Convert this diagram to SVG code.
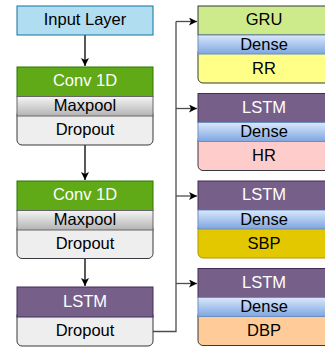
<svg xmlns="http://www.w3.org/2000/svg" width="325" height="347" viewBox="0 0 325 347">
<defs>
<linearGradient id="gGray" x1="0" y1="0" x2="0" y2="1"><stop offset="0" stop-color="#f5f5f5"/><stop offset="1" stop-color="#b3b3b3"/></linearGradient>
<linearGradient id="gBlue" x1="0" y1="0" x2="0" y2="1"><stop offset="0" stop-color="#dae8fc"/><stop offset="1" stop-color="#7ea6e0"/></linearGradient>
<marker id="arr" markerWidth="10" markerHeight="10" refX="8" refY="4" orient="auto" markerUnits="userSpaceOnUse"><path d="M0,0 L8,4 L0,8 L2,4 Z" fill="#000"/></marker>
</defs>
<style>
text{font-family:"Liberation Sans",Arial,Helvetica,sans-serif;font-size:16.5px;text-anchor:middle;fill:#000}
.w{fill:#fff}
.input{fill:#b1ddf0;stroke:#10739e}
.conv{fill:#60a917;stroke:#2d7600}
.pool{fill:url(#gGray);stroke:#666}
.drop{fill:#eeeeee;stroke:#36393d}
.lstm{fill:#76608a;stroke:#432d57}
.dense{fill:url(#gBlue);stroke:#6c8ebf}
.gru{fill:#cdeb8b;stroke:#36393d}
.rr{fill:#ffff88;stroke:#36393d}
.hr{fill:#ffcccc;stroke:#36393d}
.sbp{fill:#e3c800;stroke:#b09500}
.dbp{fill:#ffcc99;stroke:#36393d}
.c{fill:none;stroke:#000;stroke-width:1.3}
.g{fill:none;stroke:#4d4d4d;stroke-width:1.3}
</style>
<g id="connectors">
<line class="c" x1="85" y1="35" x2="85" y2="66" marker-end="url(#arr)"/>
<line class="c" x1="85" y1="145" x2="85" y2="180" marker-end="url(#arr)"/>
<line class="c" x1="85" y1="258.5" x2="85" y2="286" marker-end="url(#arr)"/>
<polyline class="g" points="153,331.5 176,331.5 176,21.5"/>
<line class="g" x1="176" y1="21.5" x2="197" y2="21.5" marker-end="url(#arr)"/>
<line class="g" x1="176" y1="108.5" x2="197" y2="108.5" marker-end="url(#arr)"/>
<line class="g" x1="176" y1="196" x2="197" y2="196" marker-end="url(#arr)"/>
<line class="g" x1="176" y1="283.5" x2="197" y2="283.5" marker-end="url(#arr)"/>
</g>
<g id="input"><rect class="input" x="17" y="6" width="136" height="29"/><text x="85" y="25">Input Layer</text></g>
<g id="block1">
<rect class="drop" x="17" y="110" width="136" height="35" rx="5"/>
<rect class="conv" x="17" y="67" width="136" height="29.5"/>
<rect class="pool" x="17" y="96.5" width="136" height="19.5"/>
<text class="w" x="85" y="86">Conv 1D</text>
<text x="85" y="111">Maxpool</text>
<text x="85" y="135">Dropout</text>
</g>
<g id="block2">
<rect class="drop" x="17" y="224" width="136" height="34.5" rx="5"/>
<rect class="conv" x="17" y="181" width="136" height="29.5"/>
<rect class="pool" x="17" y="210.5" width="136" height="19.5"/>
<text class="w" x="85" y="200">Conv 1D</text>
<text x="85" y="225">Maxpool</text>
<text x="85" y="249">Dropout</text>
</g>
<g id="block3">
<rect class="drop" x="17" y="311" width="136" height="35" rx="5"/>
<rect class="lstm" x="17" y="287" width="136" height="30"/>
<text class="w" x="85" y="306.5">LSTM</text>
<text x="85" y="336">Dropout</text>
</g>
<g id="out-rr">
<rect class="rr" x="198" y="48" width="134" height="35" rx="5"/>
<rect class="gru" x="198" y="6" width="134" height="29"/>
<rect class="dense" x="198" y="35" width="134" height="19"/>
<text x="264" y="25">GRU</text>
<text x="264" y="49.5">Dense</text>
<text x="264" y="73.5">RR</text>
</g>
<g id="out-hr">
<rect class="hr" x="198" y="135.5" width="134" height="35" rx="5"/>
<rect class="lstm" x="198" y="93.5" width="134" height="29"/>
<rect class="dense" x="198" y="122.5" width="134" height="19"/>
<text class="w" x="264" y="112.5">LSTM</text>
<text x="264" y="137">Dense</text>
<text x="264" y="161">HR</text>
</g>
<g id="out-sbp">
<rect class="sbp" x="198" y="223" width="134" height="35" rx="5"/>
<rect class="lstm" x="198" y="181" width="134" height="29"/>
<rect class="dense" x="198" y="210" width="134" height="19"/>
<text class="w" x="264" y="200">LSTM</text>
<text x="264" y="224.5">Dense</text>
<text x="264" y="248.5">SBP</text>
</g>
<g id="out-dbp">
<rect class="dbp" x="198" y="310.5" width="134" height="35" rx="5"/>
<rect class="lstm" x="198" y="268.5" width="134" height="29"/>
<rect class="dense" x="198" y="297.5" width="134" height="19"/>
<text class="w" x="264" y="287.5">LSTM</text>
<text x="264" y="312">Dense</text>
<text x="264" y="336">DBP</text>
</g>
</svg>
